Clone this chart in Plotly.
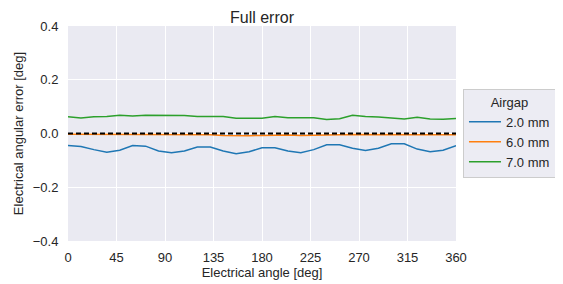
import plotly.graph_objects as go

angles = list(range(0, 361, 12))

airgap_2mm = [-0.045, -0.048, -0.060, -0.070, -0.062, -0.045, -0.047, -0.065, -0.072, -0.065,
              -0.050, -0.050, -0.065, -0.075, -0.068, -0.053, -0.053, -0.065, -0.072, -0.060,
              -0.042, -0.042, -0.055, -0.063, -0.055, -0.038, -0.038, -0.058, -0.068, -0.062,
              -0.045]
airgap_6mm = [-0.003, -0.003, -0.004, -0.004, -0.003, -0.003, -0.004, -0.004, -0.005, -0.004,
              -0.004, -0.005, -0.007, -0.008, -0.008, -0.007, -0.006, -0.006, -0.007, -0.007,
              -0.006, -0.005, -0.004, -0.004, -0.005, -0.005, -0.005, -0.005, -0.006, -0.006,
              -0.005]
airgap_7mm = [0.062, 0.058, 0.062, 0.063, 0.068, 0.065, 0.068, 0.068, 0.067, 0.067,
              0.063, 0.063, 0.063, 0.057, 0.057, 0.057, 0.063, 0.059, 0.059, 0.059,
              0.052, 0.055, 0.068, 0.063, 0.061, 0.058, 0.054, 0.060, 0.054, 0.053,
              0.056]
reference = [0.0] * len(angles)

series_names = ["2.0 mm", "6.0 mm", "7.0 mm"]
series_values = [airgap_2mm, airgap_6mm, airgap_7mm]
colors = ["#1f77b4", "#ff7f0e", "#2ca02c"]

x_ticks = list(range(0, 361, 45))
y_ticks = [-0.4, -0.2, 0.0, 0.2, 0.4]

fig = go.Figure()
for name, vals, c in zip(series_names, series_values, colors):
    fig.add_trace(go.Scatter(x=angles, y=vals, mode="lines", name=name,
                             line=dict(color=c, width=1.5)))
fig.add_trace(go.Scatter(x=angles, y=reference, mode="lines", showlegend=False,
                         line=dict(color="black", width=1.8, dash="5px,3px")))

font = "Liberation Sans, Arial, sans-serif"
fig.update_layout(
    width=555, height=276,
    margin=dict(l=60, r=107, t=18, b=43, autoexpand=False),
    paper_bgcolor="white",
    plot_bgcolor="#EAEAF2",
    font=dict(family=font, size=13, color="#262626"),
    title=dict(text="Full error", x=0.5, xref="paper", xanchor="center",
               y=1, yref="paper", yanchor="bottom", pad=dict(b=3),
               font=dict(size=16, color="#262626")),
    legend=dict(title=dict(text="Airgap", side="top center", font=dict(size=13)),
                x=1.018, xanchor="left", y=0.5, yanchor="middle",
                bgcolor="rgba(234,234,242,0.9)", bordercolor="#CCCCCC", borderwidth=1,
                font=dict(size=13), itemwidth=32, tracegroupgap=0,
                entrywidth=58, entrywidthmode="pixels"),
    xaxis=dict(range=[0, 360], tickvals=x_ticks, showgrid=True, gridcolor="white",
               gridwidth=1, zeroline=False, ticks="outside", ticklen=4,
               tickcolor="rgba(0,0,0,0)", showline=False, automargin=False,
               title=dict(text="Electrical angle [deg]", standoff=2, font=dict(size=13))),
    yaxis=dict(range=[-0.4, 0.4], tickvals=y_ticks, tickformat=".1f", showgrid=True,
               gridcolor="white", gridwidth=1, zeroline=False, ticks="outside", ticklen=6,
               tickcolor="rgba(0,0,0,0)", showline=False, automargin=False,
               title=dict(text="Electrical angular error [deg]", standoff=6, font=dict(size=13))),
)

fig.write_html("out.html")
